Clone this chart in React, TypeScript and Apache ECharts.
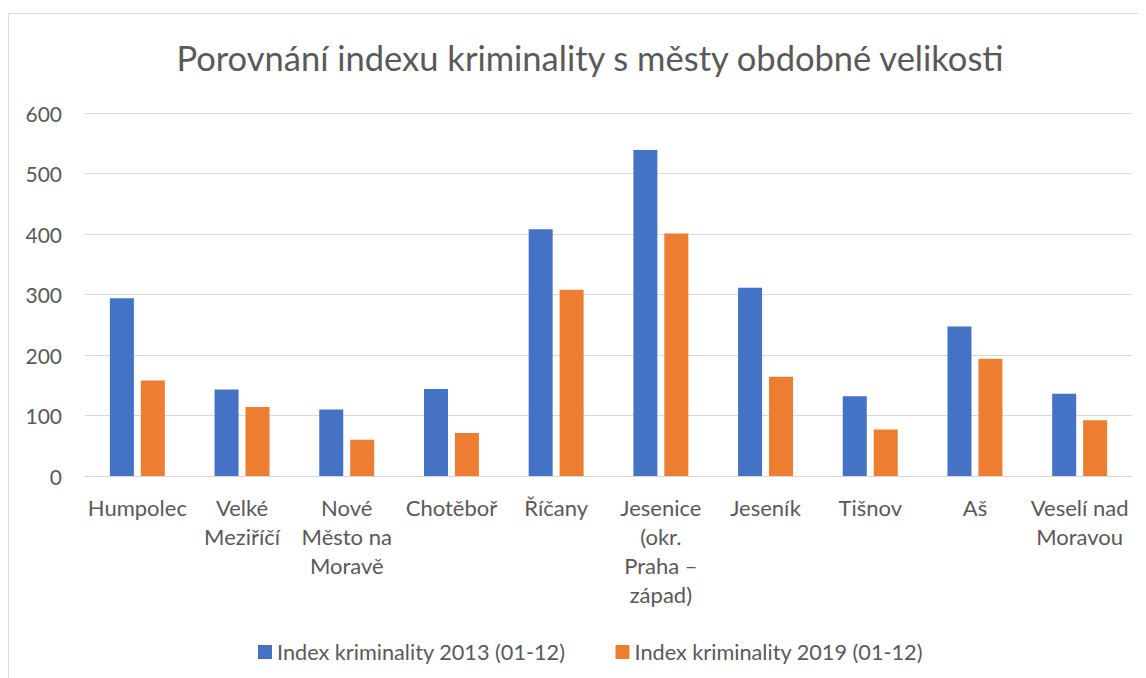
import React, { useEffect, useRef } from "react";
import * as echarts from "echarts";

const categories = [
  "Humpolec",
  "Velké\nMeziříčí",
  "Nové\nMěsto na\nMoravě",
  "Chotěboř",
  "Říčany",
  "Jesenice\n(okr.\nPraha –\nzápad)",
  "Jeseník",
  "Tišnov",
  "Aš",
  "Veselí nad\nMoravou",
];
const index2013 = [294, 143, 110, 144, 408, 539, 311, 132, 247, 136];
const index2019 = [158, 114, 60, 71, 308, 401, 164, 77, 194, 92];
const yTicks = [0, 100, 200, 300, 400, 500, 600];

const FONT = "Lato, 'Noto Sans', sans-serif";
const GREY = "#595959";

export default function App() {
  const ref = useRef<HTMLDivElement>(null);
  useEffect(() => {
    if (!ref.current) return;
    const chart = echarts.init(ref.current, undefined, { renderer: "svg" });
    chart.setOption({
      animation: false,
      textStyle: { fontFamily: FONT },
      title: {
        text: "Porovnání indexu kriminality s městy obdobné velikosti",
        left: 577,
        textAlign: "center",
        top: 27,
        textStyle: { fontFamily: FONT, fontSize: 34.5, fontWeight: "normal", color: GREY },
      },
      graphic: [
        {
          type: "rect",
          shape: { x: 0.5, y: 5.5, width: 1300, height: 1000 },
          style: { fill: "none", stroke: "#d9d9d9", lineWidth: 1 },
          silent: true,
        },
      ],
      legend: {
        left: 245,
        top: 628,
        itemWidth: 14,
        itemHeight: 14,
        itemGap: 50,
        icon: "rect",
        textStyle: { fontFamily: FONT, fontSize: 21.7, color: GREY },
        data: ["Index kriminality 2013 (01-12)", "Index kriminality 2019 (01-12)"],
      },
      grid: { left: 77, right: 14, top: 105, bottom: 202, containLabel: false },
      xAxis: {
        type: "category",
        data: categories,
        axisLine: { lineStyle: { color: "#d9d9d9" } },
        axisTick: { show: false },
        axisLabel: {
          interval: 0,
          fontFamily: FONT,
          fontSize: 22,
          color: GREY,
          lineHeight: 29,
          margin: 17,
        },
      },
      yAxis: {
        type: "value",
        min: yTicks[0],
        max: yTicks[yTicks.length - 1],
        interval: 100,
        axisLine: { show: false },
        axisTick: { show: false },
        splitLine: { lineStyle: { color: "#d9d9d9" } },
        axisLabel: { fontFamily: FONT, fontSize: 21, color: GREY, margin: 23 },
      },
      series: [
        {
          name: "Index kriminality 2013 (01-12)",
          type: "bar",
          data: index2013,
          itemStyle: { color: "#4472C4" },
          barWidth: 24,
          barGap: "29%",
        },
        {
          name: "Index kriminality 2019 (01-12)",
          type: "bar",
          data: index2019,
          itemStyle: { color: "#ED7D31" },
          barWidth: 24,
          barGap: "29%",
        },
      ],
    });
    return () => chart.dispose();
  }, []);
  return <div ref={ref} style={{ width: 1138, height: 670 }} />;
}
